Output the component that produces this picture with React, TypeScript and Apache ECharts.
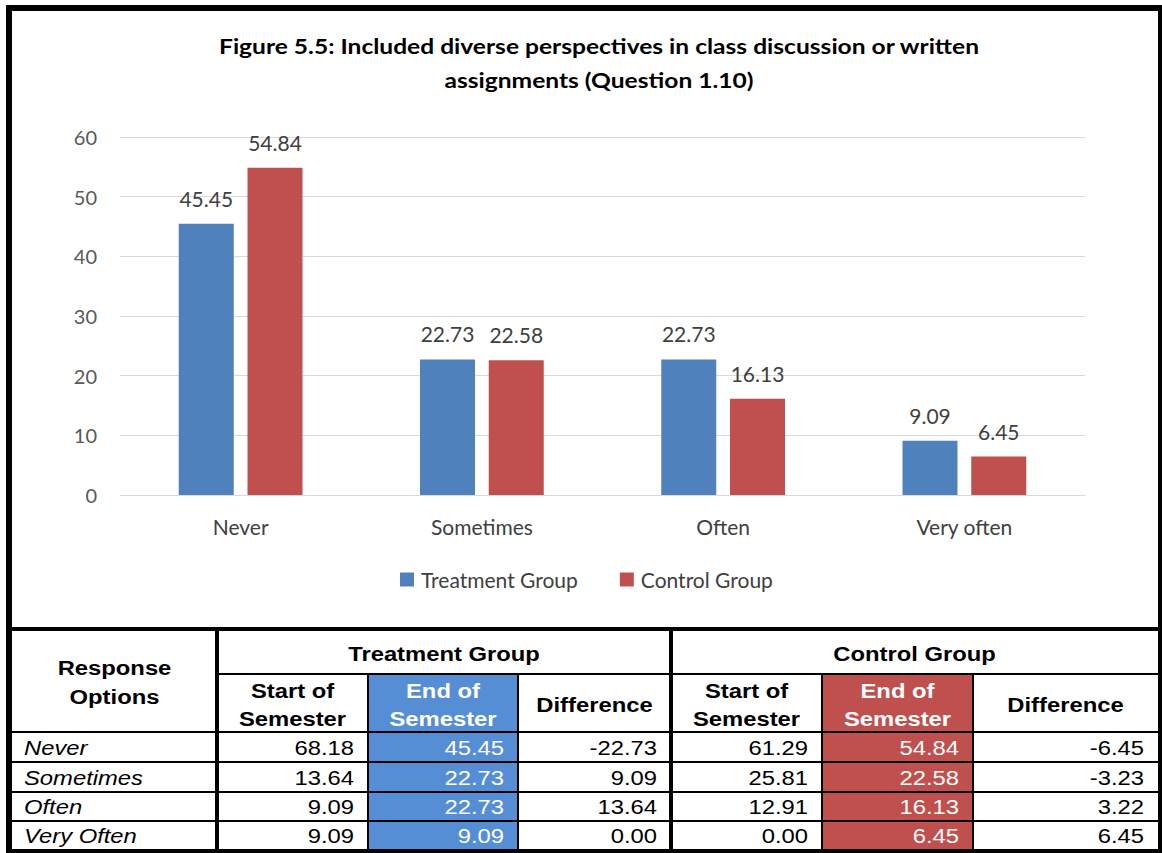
import { useEffect, useRef } from "react";
import * as echarts from "echarts";

// Chart data
const categories = ["Never", "Sometimes", "Often", "Very often"];
const treatmentEnd = [45.45, 22.73, 22.73, 9.09];
const controlEnd = [54.84, 22.58, 16.13, 6.45];
const seriesNames = ["Treatment Group", "Control Group"];
const titleLines = [
  "Figure 5.5: Included diverse perspectives in class discussion or written",
  "assignments (Question 1.10)",
];

// Table data
const responseOptions = ["Never", "Sometimes", "Often", "Very Often"];
const treatmentStart = [68.18, 13.64, 9.09, 9.09];
const treatmentDiff = [-22.73, 9.09, 13.64, 0.0];
const controlStart = [61.29, 25.81, 12.91, 0.0];
const controlDiff = [-6.45, -3.23, 3.22, 6.45];
const rowHeader = ["Response", "Options"];
const subHeaders = [["Start of", "Semester"], ["End of", "Semester"], ["Difference"]];

const BLUE = "#4F81BD";
const RED = "#C0504D";
const CELL_BLUE = "#558ED5";
const CELL_RED = "#C0504D";
const CHART_FONT = "Lato";
const TABLE_FONT = "Liberation Sans";
const TABLE_STRETCH = 1.19;
const TITLE_STRETCH = 1.17;

// table geometry
const colEdges = [12, 217, 368, 518, 671, 822, 973, 1158];
const rowEdges = [732, 762, 792, 821, 850];

function box(x: number, y: number, w: number, h: number, fill: string) {
  return { type: "rect", silent: true, shape: { x, y, width: w, height: h }, style: { fill } };
}

function label(
  x: number,
  y: number,
  text: string,
  align: string,
  opts: { bold?: boolean; italic?: boolean; fill?: string } = {}
) {
  return {
    type: "text",
    silent: true,
    x,
    y,
    scaleX: TABLE_STRETCH,
    style: {
      text,
      x: 0,
      y: 0,
      fontSize: 20,
      fontFamily: TABLE_FONT,
      fontWeight: opts.bold ? "bold" : "normal",
      fontStyle: opts.italic ? "italic" : "normal",
      fill: opts.fill || "#000",
      align,
      verticalAlign: "middle",
      textAlign: align,
      textVerticalAlign: "middle",
    },
  };
}

function buildTable() {
  const els: any[] = [];
  const tableColumns = [treatmentStart, treatmentEnd, treatmentDiff, controlStart, controlEnd, controlDiff];
  const filled: Record<number, string> = { 1: CELL_BLUE, 4: CELL_RED };

  // coloured "End of Semester" columns
  Object.keys(filled).forEach((k) => {
    const c = Number(k) + 1;
    els.push(box(colEdges[c], 674, colEdges[c + 1] - colEdges[c], 850 - 674, filled[Number(k)]));
  });

  // header texts
  els.push(label((colEdges[0] + colEdges[1]) / 2, 668, rowHeader[0], "center", { bold: true }));
  els.push(label((colEdges[0] + colEdges[1]) / 2, 697, rowHeader[1], "center", { bold: true }));
  seriesNames.forEach((g, gi) => {
    const l = colEdges[1 + gi * 3];
    const r = colEdges[4 + gi * 3];
    els.push(label((l + r) / 2, 654, g, "center", { bold: true }));
    subHeaders.forEach((lines, si) => {
      const c = 1 + gi * 3 + si;
      const cx = (colEdges[c] + colEdges[c + 1]) / 2;
      const fill = si === 1 ? "#fff" : "#000";
      if (lines.length === 2) {
        els.push(label(cx, 691, lines[0], "center", { bold: true, fill }));
        els.push(label(cx, 719, lines[1], "center", { bold: true, fill }));
      } else {
        els.push(label(cx, 705, lines[0], "center", { bold: true, fill }));
      }
    });
  });

  // body rows
  responseOptions.forEach((name, ri) => {
    const cy = (rowEdges[ri] + rowEdges[ri + 1]) / 2 + 1;
    els.push(label(24, cy, name, "left", { italic: true }));
    tableColumns.forEach((col, ci) => {
      const right = colEdges[ci + 2] - 14;
      const fill = ci === 1 || ci === 4 ? "#fff" : "#000";
      els.push(label(right, cy, col[ri].toFixed(2), "right", { fill }));
    });
  });

  // grid lines
  els.push(box(colEdges[1], 673, 1158 - colEdges[1], 2, "#000"));
  rowEdges.slice(0, 4).forEach((y) => els.push(box(12, y - 1, 1146, 2, "#000")));
  [2, 3, 5, 6].forEach((c) => els.push(box(colEdges[c] - 1, 674, 2, 176, "#000")));
  els.push(box(215, 631, 4, 219, "#000"));
  els.push(box(669, 631, 4, 219, "#000"));
  return els;
}

function buildFrame() {
  return [
    box(6, 5, 6, 848, "#000"),
    box(6, 5, 1156, 6, "#000"),
    box(1158, 5, 4, 848, "#000"),
    box(6, 849, 1156, 4, "#000"),
    box(6, 627, 1156, 4, "#000"),
  ];
}

function buildTitle() {
  return titleLines.map((t, i) => ({
    type: "text",
    silent: true,
    x: 599,
    y: 46 + i * 34,
    scaleX: TITLE_STRETCH,
    style: {
      text: t,
      x: 0,
      y: 0,
      fontSize: 21,
      fontWeight: "bold",
      fontFamily: CHART_FONT,
      fill: "#000",
      align: "center",
      verticalAlign: "middle",
      textAlign: "center",
      textVerticalAlign: "middle",
    },
  }));
}

export default function App() {
  const ref = useRef<HTMLDivElement>(null);

  useEffect(() => {
    if (!ref.current) return;
    const chart = echarts.init(ref.current, null, { renderer: "svg" });
    const dataLabel = {
      show: true,
      position: "top",
      distance: 15,
      color: "#404040",
      fontSize: 21,
      fontFamily: CHART_FONT,
      formatter: (p: any) => Number(p.value).toFixed(2),
    };
    chart.setOption({
      animation: false,
      backgroundColor: "#fff",
      textStyle: { fontFamily: CHART_FONT },
      grid: { left: 120, right: 77, top: 137, bottom: 358, containLabel: false },
      legend: {
        data: seriesNames,
        left: 395,
        top: 564,
        icon: "rect",
        itemWidth: 14,
        itemHeight: 14,
        itemGap: 42,
        selectedMode: false,
        textStyle: { fontSize: 21, color: "#404040", fontFamily: CHART_FONT, padding: [0, 0, 0, 2] },
      },
      xAxis: {
        type: "category",
        data: categories,
        axisTick: { show: false },
        axisLine: { lineStyle: { color: "#D9D9D9", width: 1 } },
        axisLabel: { color: "#404040", fontSize: 21, margin: 21, fontFamily: CHART_FONT },
      },
      yAxis: {
        type: "value",
        min: 0,
        max: 60,
        interval: 10,
        axisLine: { show: false },
        axisTick: { show: false },
        splitLine: { lineStyle: { color: "#D9D9D9", width: 1 } },
        axisLabel: { color: "#595959", fontSize: 20, margin: 23, fontFamily: CHART_FONT },
      },
      series: [
        {
          name: seriesNames[0],
          type: "bar",
          data: treatmentEnd,
          barWidth: 55,
          barGap: "25%",
          itemStyle: { color: BLUE },
          label: dataLabel,
        },
        {
          name: seriesNames[1],
          type: "bar",
          data: controlEnd,
          barWidth: 55,
          itemStyle: { color: RED },
          label: dataLabel,
        },
      ],
      graphic: { elements: [...buildTitle(), ...buildTable(), ...buildFrame()] },
    });
    return () => chart.dispose();
  }, []);

  return (
    <div
      ref={ref}
      style={{ position: "absolute", left: 0, top: 0, width: 1162, height: 853, background: "#fff" }}
    />
  );
}
